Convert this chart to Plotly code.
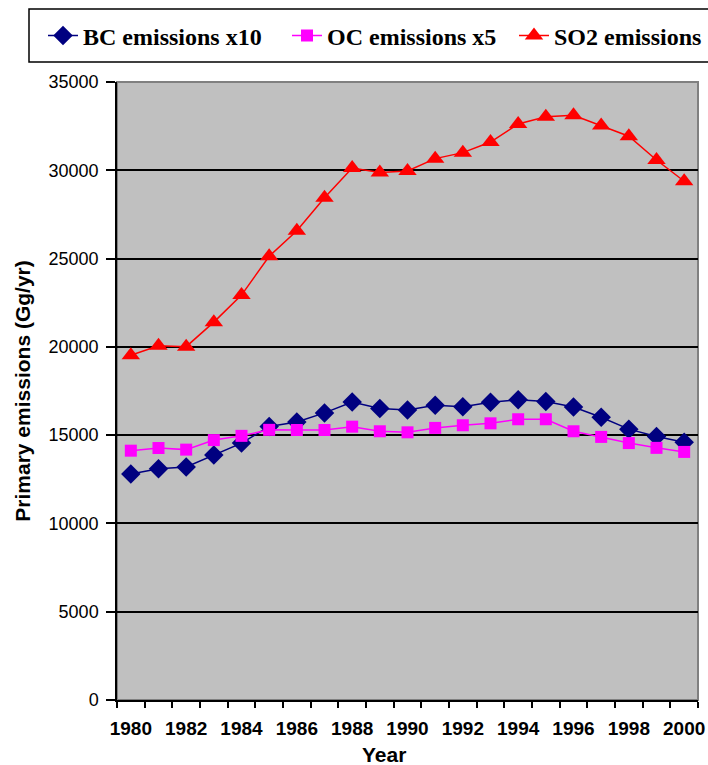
import plotly.graph_objects as go

years = [1980, 1981, 1982, 1983, 1984, 1985, 1986, 1987, 1988, 1989, 1990,
         1991, 1992, 1993, 1994, 1995, 1996, 1997, 1998, 1999, 2000]

bc_x10 = [12800, 13100, 13200, 13880, 14550, 15490, 15740, 16260, 16870, 16510, 16430,
          16690, 16610, 16860, 17010, 16910, 16590, 16010, 15340, 14920, 14600]

oc_x5 = [14120, 14270, 14180, 14720, 14960, 15300, 15290, 15290, 15480, 15220, 15160,
         15410, 15560, 15670, 15900, 15900, 15220, 14900, 14550, 14280, 14050]

so2 = [19520, 20060, 20010, 21400, 22930, 25130, 26570, 28440, 30130, 29880, 29960,
       30660, 31000, 31600, 32620, 33030, 33120, 32540, 31930, 30580, 29380]

series_names = ["BC emissions x10", "OC emissions x5", "SO2 emissions"]
y_ticks = [0, 5000, 10000, 15000, 20000, 25000, 30000, 35000]
x_ticks = [1980, 1982, 1984, 1986, 1988, 1990, 1992, 1994, 1996, 1998, 2000]

W, H = 708, 765
ML, MR, MT, MB = 117, 10, 82, 65
PW, PH = W - ML - MR, H - MT - MB


def px_x(p):
    return (p - ML) / PW


def px_y(p):
    return (H - MB - p) / PH


fig = go.Figure()
fig.add_trace(go.Scatter(
    x=years, y=bc_x10, name=series_names[0], mode="lines+markers",
    line=dict(color="#000080", width=1.5), legend="legend",
    marker=dict(symbol="diamond", size=15, color="#000080")))
fig.add_trace(go.Scatter(
    x=years, y=oc_x5, name=series_names[1], mode="lines+markers",
    line=dict(color="#FF00FF", width=1.5), legend="legend2",
    marker=dict(symbol="square", size=12, color="#FF00FF")))
fig.add_trace(go.Scatter(
    x=years, y=so2, name=series_names[2], mode="lines+markers",
    line=dict(color="#FF0000", width=1.5), legend="legend3",
    marker=dict(symbol="triangle-up", size=16, color="#FF0000")))

# plot-area border (grey) and legend box
fig.add_shape(type="rect", xref="paper", yref="paper", x0=0, y0=0, x1=1, y1=1,
              line=dict(color="#808080", width=2), layer="below")
fig.add_shape(type="rect", xref="paper", yref="paper",
              x0=px_x(29), x1=px_x(730), y0=px_y(62), y1=px_y(9),
              line=dict(color="black", width=1.5), fillcolor="white", layer="below")

# x-axis title (placed like the reference, slightly left of the plot centre)
fig.add_annotation(text="Year", xref="paper", yref="paper",
                   x=px_x(384), y=px_y(755), xanchor="center", yanchor="middle",
                   showarrow=False, font=dict(size=21, weight="bold", color="black"))

legend_font = dict(family="Liberation Serif, Times New Roman, serif", size=24,
                   color="black", weight="bold")


def legend_at(px_left):
    return dict(orientation="h", x=px_x(px_left), xanchor="left",
                y=px_y(36), yanchor="middle",
                bgcolor="rgba(0,0,0,0)", borderwidth=0,
                font=legend_font, itemwidth=30)


fig.update_layout(
    width=W, height=H,
    margin=dict(l=ML, r=MR, t=MT, b=MB, autoexpand=False),
    paper_bgcolor="white",
    plot_bgcolor="#C0C0C0",
    font=dict(family="Liberation Sans, Arial, sans-serif", color="black"),
    showlegend=True,
    legend=legend_at(43),
    legend2=legend_at(287),
    legend3=legend_at(514),
    xaxis=dict(
        range=[1979.5, 2000.5], tickmode="array", tickvals=x_ticks,
        ticktext=[str(v) for v in x_ticks], ticks="",
        tickfont=dict(size=19, weight="bold"), ticklabelstandoff=10,
        showgrid=False, zeroline=False,
        showline=True, linecolor="black", linewidth=1.5,
        minor=dict(tickmode="linear", tick0=1979.5, dtick=1, ticks="outside",
                   ticklen=6, tickwidth=1.5, tickcolor="black", showgrid=False)),
    yaxis=dict(
        range=[0, 35000], tickmode="array", tickvals=y_ticks,
        ticktext=[str(v) for v in y_ticks],
        ticks="outside", ticklen=9, tickwidth=1.5, tickcolor="black",
        tickfont=dict(size=18), ticklabelstandoff=4,
        showgrid=True, gridcolor="black", gridwidth=1.5, zeroline=False,
        showline=True, linecolor="black", linewidth=1.5,
        title=dict(text="Primary emissions (Gg/yr)", font=dict(size=21, weight="bold"),
                   standoff=12)),
)

fig.write_html("out.html", config={"displayModeBar": False},
               post_script="document.body.style.margin='0';")
